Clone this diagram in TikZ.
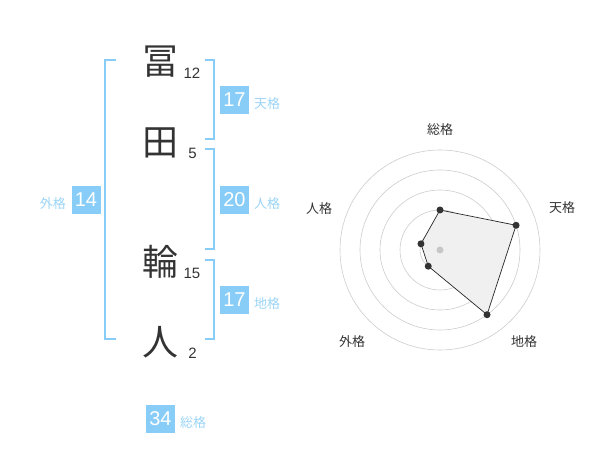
\documentclass[tikz,border=0pt]{standalone}
\usepackage{fontspec}
\setmainfont{Liberation Sans}
\newfontfamily\cjk{Noto Sans CJK JP}
\definecolor{blu}{HTML}{88CCF8}
\definecolor{lbl}{HTML}{9AD4F6}
\definecolor{ink}{HTML}{333333}
\begin{document}
\begin{tikzpicture}[x=1pt,y=-1pt,
 kanji/.style={font=\cjk\fontsize{36}{36}\selectfont, text=ink, inner sep=0},
 strokes/.style={font=\fontsize{15}{15}\selectfont, text=ink, inner sep=0},
 numbox/.style={fill=blu, text=white, minimum width=29pt, minimum height=28pt, inner sep=0, font=\fontsize{20}{20}\selectfont},
 kaku/.style={font=\cjk\fontsize{13}{13}\selectfont, text=lbl, inner sep=0},
 brk/.style={draw=blu, line width=2pt},
 ring/.style={draw=black!20, line width=0.6pt},
 axislbl/.style={font=\cjk\fontsize{13}{13}\selectfont, text=ink, inner sep=0},
 dot/.style={circle, fill=ink, inner sep=0, minimum size=7pt},
 cdot/.style={circle, fill=black!22, inner sep=0, minimum size=7pt}]
\useasboundingbox (0,0) rectangle (600,470);
% name characters
\node[kanji] (c1) at (160,62) {冨};
\node[kanji] (c2) at (160,143) {田};
\node[kanji] (c3) at (160,262) {輪};
\node[kanji] (c4) at (160,342) {人};
\node[strokes] (s1) at (192,73) {12};
\node[strokes] (s2) at (192.5,153) {5};
\node[strokes] (s3) at (192,273) {15};
\node[strokes] (s4) at (192.5,353) {2};
% brackets
\coordinate (bl1) at (116,60); \coordinate (bl2) at (105,60);
\coordinate (bl3) at (105,339); \coordinate (bl4) at (116,339);
\draw[brk] (bl1) -- (bl2) -- (bl3) -- (bl4);
\coordinate (t1) at (205,60); \coordinate (t2) at (214,60);
\coordinate (t3) at (214,139); \coordinate (t4) at (205,139);
\draw[brk] (t1) -- (t2) -- (t3) -- (t4);
\coordinate (j1) at (205,149); \coordinate (j2) at (214,149);
\coordinate (j3) at (214,249); \coordinate (j4) at (205,249);
\draw[brk] (j1) -- (j2) -- (j3) -- (j4);
\coordinate (g1) at (205,260); \coordinate (g2) at (214,260);
\coordinate (g3) at (214,339); \coordinate (g4) at (205,339);
\draw[brk] (g1) -- (g2) -- (g3) -- (g4);
% values
\node[numbox] (ten) at (234.5,100) {17};
\node[kaku, anchor=west] (tenl) at (254,104) {天格};
\node[numbox] (jin) at (234.5,200) {20};
\node[kaku, anchor=west] (jinl) at (254,204) {人格};
\node[numbox] (chi) at (234.5,300) {17};
\node[kaku, anchor=west] (chil) at (254,304) {地格};
\node[numbox] (gai) at (86,200) {14};
\node[kaku, anchor=east] (gail) at (66,204) {外格};
\node[numbox] (sou) at (160.5,419) {34};
\node[kaku, anchor=west] (soul) at (180,423) {総格};
% radar
\coordinate (ctr) at (440,250);
\foreach \r in {20,40,60,80,100} \draw[ring] (ctr) circle[radius=\r];
\coordinate (pS) at (440,210);
\coordinate (pT) at (516.08,225.28);
\coordinate (pC) at (487.02,314.72);
\coordinate (pG) at (428.24,266.18);
\coordinate (pJ) at (420.98,243.82);
\draw[fill=black!6, draw=black!85, line width=0.7pt] (pS) -- (pT) -- (pC) -- (pG) -- (pJ) -- cycle;
\node[cdot] (cd) at (ctr) {};
\foreach \p in {pS,pT,pC,pG,pJ} \node[dot] (d\p) at (\p) {};
\node[axislbl] (aS) at (440,130) {総格};
\node[axislbl] (aT) at (562,208) {天格};
\node[axislbl] (aJ) at (319,209) {人格};
\node[axislbl] (aG) at (352,342) {外格};
\node[axislbl] (aC) at (524,342) {地格};
\end{tikzpicture}
\end{document}
